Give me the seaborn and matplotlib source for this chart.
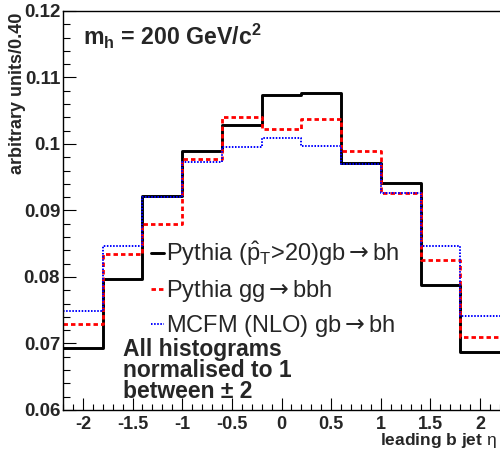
import numpy as np
import pandas as pd
import seaborn as sns
import matplotlib
matplotlib.use("Agg")
import matplotlib.pyplot as plt
from matplotlib.ticker import MultipleLocator, FuncFormatter

# ---- data ----
bin_edges = [-2.2, -1.8, -1.4, -1.0, -0.6, -0.2, 0.2, 0.6, 1.0, 1.4, 1.8, 2.2]
pythia_gb = [0.0693, 0.0797, 0.0922, 0.0990, 0.1028, 0.1074, 0.1076, 0.0972, 0.0941, 0.0788, 0.0687]
pythia_gg = [0.0730, 0.0834, 0.0880, 0.0978, 0.1040, 0.1022, 0.1037, 0.0989, 0.0927, 0.0826, 0.0710]
mcfm_gb   = [0.0749, 0.0847, 0.0920, 0.0973, 0.0996, 0.1009, 0.0997, 0.0970, 0.0926, 0.0846, 0.0741]
series_labels = [r'Pythia ($\hat{\mathrm{p}}_\mathrm{T}$>20)gb$\mathsf{\rightarrow}$bh',
                 r'Pythia gg$\mathsf{\rightarrow}$bbh',
                 r'MCFM (NLO) gb$\mathsf{\rightarrow}$bh']
note_lines = ['All histograms', 'normalised to 1', 'between ± 2']
x_ticks = [-2, -1.5, -1, -0.5, 0, 0.5, 1, 1.5, 2]
y_ticks = [0.06, 0.07, 0.08, 0.09, 0.10, 0.11, 0.12]

sns.set_theme(style="ticks")
plt.rcParams['font.family'] = ['Liberation Sans', 'DejaVu Sans']
plt.rcParams['mathtext.fontset'] = 'custom'
plt.rcParams['mathtext.rm'] = 'Liberation Sans'
plt.rcParams['mathtext.it'] = 'Liberation Sans'
plt.rcParams['mathtext.bf'] = 'Liberation Sans:bold'
plt.rcParams['mathtext.sf'] = 'DejaVu Sans'

W, H = 500, 463
fig = plt.figure(figsize=(W / 100, H / 100), dpi=100)
ax = fig.add_axes([63 / W, 1 - 410 / H, 1 - 63 / W, (410 - 11) / H])

centers = [(a + b) / 2 for a, b in zip(bin_edges[:-1], bin_edges[1:])]
df = pd.DataFrame({'eta': centers, 'gb': pythia_gb, 'gg': pythia_gg, 'mcfm': mcfm_gb})

styles = [
    ('gb', 'black', 2.1, '-'),
    ('gg', '#ff0000', 2.0, (0, (1.6, 1.1))),
    ('mcfm', '#0000ff', 1.4, (0, (0.8, 0.8))),
]
for (col, color, lw, ls), lab in zip(styles, series_labels):
    sns.histplot(data=df, x='eta', weights=col, bins=bin_edges, element='step',
                 fill=False, color=color, linewidth=lw, linestyle=ls, ax=ax, label=lab)

ax.set_xlim(-2.2, 2.2)
ax.set_ylim(0.06, 0.12)
ax.set_xlabel('')
ax.set_ylabel('')
ax.set_xticks(x_ticks)
ax.set_yticks(y_ticks)
ax.xaxis.set_major_formatter(FuncFormatter(lambda v, p: f'{v:g}'))
ax.yaxis.set_major_formatter(FuncFormatter(lambda v, p: f'{round(v, 3):g}'))
ax.xaxis.set_minor_locator(MultipleLocator(0.1))
ax.yaxis.set_minor_locator(MultipleLocator(0.002))
ax.tick_params(axis='x', which='major', direction='in', length=8.6, width=0.8,
               labelsize=13, pad=4, color='black')
ax.tick_params(axis='x', which='minor', direction='in', length=4.3, width=0.8, color='black')
ax.tick_params(axis='y', which='major', direction='in', length=9.4, width=0.8,
               labelsize=13.5, pad=2, color='black')
ax.tick_params(axis='y', which='minor', direction='in', length=4.7, width=0.8, color='black')
for lab in ax.get_xticklabels() + ax.get_yticklabels():
    lab.set_fontweight('bold')
for s in ['left', 'bottom', 'top']:
    ax.spines[s].set_linewidth(1.0)
    ax.spines[s].set_color('black')
ax.spines['right'].set_visible(False)
ax.set_facecolor('white')
fig.patch.set_facecolor('white')

# axis titles
fig.text(18 / W, 1 - 13 / H, 'arbitrary units/0.40', rotation=90, ha='center', va='top',
         fontsize=13, fontweight='bold')
fig.text(497 / W, 1 - 445 / H, r'leading b jet $\eta$', ha='right', va='baseline',
         fontsize=12.5, fontweight='bold')

# mass annotation
fig.text(83 / W, 1 - 45 / H, r'm$_\mathbf{h}$ = 200 GeV/c$^\mathbf{2}$', ha='left',
         va='baseline', fontsize=16.7, fontweight='bold')

# normalisation note (one multi-line text)
fig.text(123 / W, 1 - 398.5 / H, '\n'.join(note_lines), ha='left', va='baseline',
         fontsize=16.5, fontweight='bold', linespacing=0.91)

handles = ax.lines[:3]
leg = ax.legend(handles, series_labels, loc='upper left',
                bbox_to_anchor=(151 / W, 1 - 240 / H), bbox_transform=fig.transFigure,
                frameon=False, fontsize=17, handlelength=0.55, handletextpad=0.1,
                labelspacing=0.40, borderpad=0, borderaxespad=0)

fig.savefig('out.png', dpi=100, facecolor='white')
